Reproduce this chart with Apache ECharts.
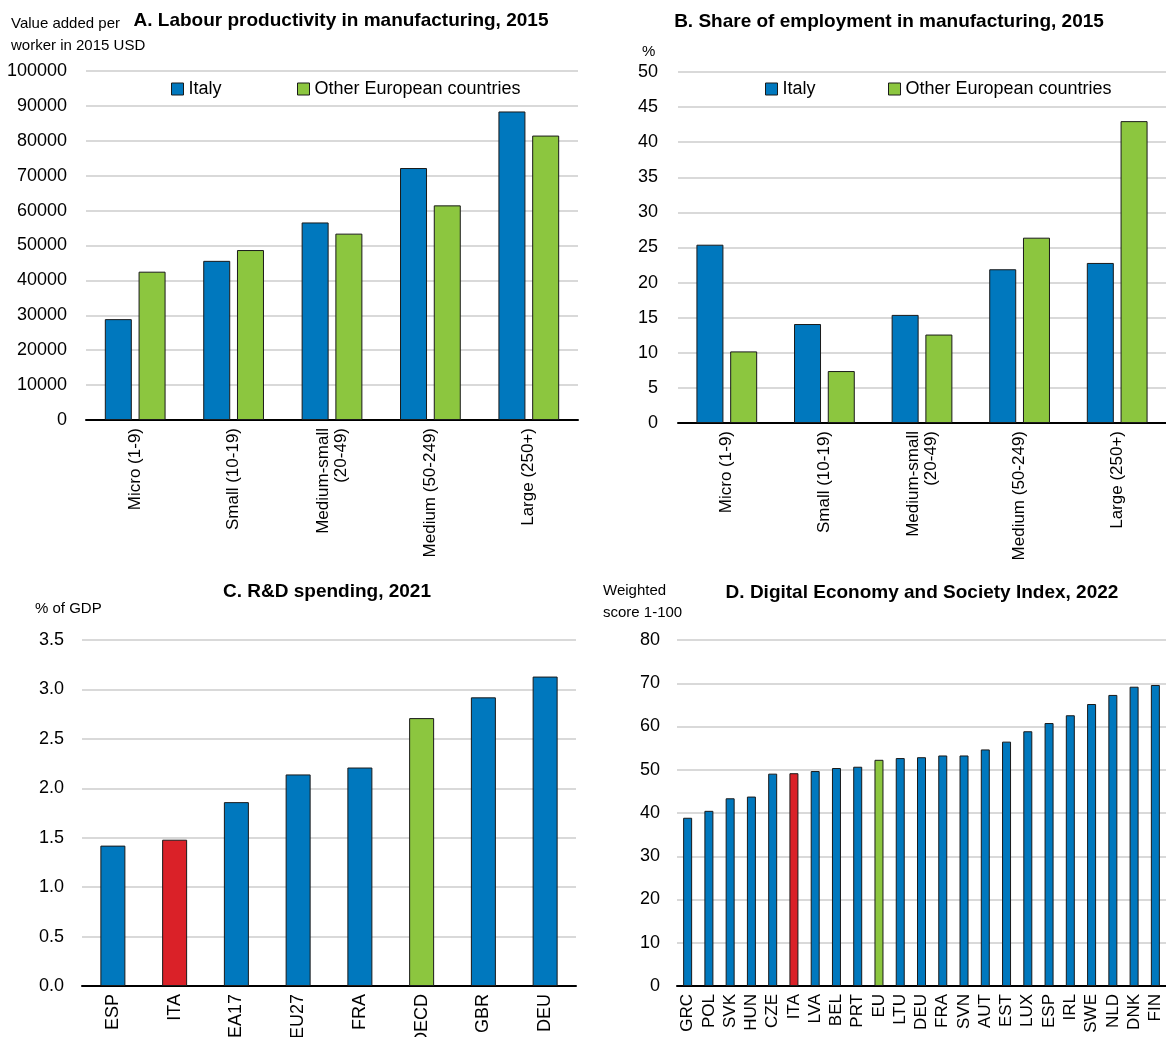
<!DOCTYPE html>
<html><head><meta charset="utf-8">
<script src="https://cdn.jsdelivr.net/npm/echarts@6/dist/echarts.min.js"></script>
<style>html,body{margin:0;padding:0;background:#fff}#c{width:1166px;height:1037px}</style>
</head><body><div id="c"></div>
<script>
// Panel A: labour productivity (value added per worker, 2015 USD)
const sizeCats = ['Micro (1-9)', 'Small (10-19)', 'Medium-small\n(20-49)', 'Medium (50-249)', 'Large (250+)'];
const prodItaly = [28900, 45600, 56600, 72200, 88400];
const prodOther = [42500, 48700, 53400, 61500, 81500];
// Panel B: share of employment (%)
const empItaly = [25.4, 14.1, 15.4, 21.9, 22.8];
const empOther = [10.2, 7.4, 12.6, 26.4, 43.0];
// Panel C: R&D spending, % of GDP
const rdCats = ['ESP', 'ITA', 'EA17', 'EU27', 'FRA', 'OECD', 'GBR', 'DEU'];
const rdVals = [1.42, 1.48, 1.86, 2.14, 2.21, 2.71, 2.92, 3.13];
// Panel D: DESI 2022
const desiCats = ['GRC','POL','SVK','HUN','CZE','ITA','LVA','BEL','PRT','EU','LTU','DEU','FRA','SVN','AUT','EST','LUX','ESP','IRL','SWE','NLD','DNK','FIN'];
const desiVals = [38.9, 40.5, 43.4, 43.8, 49.1, 49.2, 49.7, 50.4, 50.7, 52.3, 52.7, 52.9, 53.3, 53.3, 54.7, 56.5, 58.9, 60.8, 62.6, 65.2, 67.3, 69.2, 69.6];

const BLUE = '#0078BE', GREEN = '#8CC63F', RED = '#DA2128';
const FONT = "'Liberation Sans Narrow','Arial Narrow','Liberation Sans',Arial,sans-serif";
const colorFor = c => c === 'ITA' ? RED : (c === 'OECD' || c === 'EU') ? GREEN : BLUE;

const grids = [
  {left: 86, top: 71, width: 492, height: 349},
  {left: 678, top: 72, width: 488, height: 351},
  {left: 82, top: 640, width: 494, height: 346},
  {left: 677, top: 640, width: 489, height: 346}
].map(g => Object.assign({outerBoundsMode: 'none', containLabel: false}, g));
const xAx = (i, data, fs) => ({
  type: 'category', gridIndex: i, data: data,
  axisLine: {lineStyle: {color: '#000', width: 2}},
  axisTick: {inside: true, length: 6, lineStyle: {color: '#000', width: 2}},
  axisLabel: {rotate: 90, interval: 0, color: '#000', fontFamily: FONT, fontSize: fs, margin: 8, lineHeight: fs + 1}
});
const yAx = (i, max, interval, margin, fmt) => ({
  type: 'value', gridIndex: i, min: 0, max: max, interval: interval,
  axisLine: {show: false}, axisTick: {show: false},
  splitLine: {lineStyle: {color: '#d9d9d9', width: 2}},
  axisLabel: {color: '#000', fontFamily: FONT, fontSize: 18, margin: margin, formatter: fmt}
});
const border = {borderColor: '#1a1a1a', borderWidth: 1};
const titleStyle = {fontFamily: FONT, fontSize: 19, fontWeight: 'bold', color: '#000'};
const unitStyle = {fontFamily: FONT, fontSize: 15, fontWeight: 'normal', color: '#000', lineHeight: 22};
const legendText = {fontFamily: FONT, fontSize: 18, color: '#000'};
const leg = (name, left) => ({data: [name], left: left, top: 75, icon: 'rect', itemWidth: 12, itemHeight: 12, itemGap: 0, textStyle: legendText, itemStyle: border});

const option = {
  animation: false,
  title: [
    {text: 'A. Labour productivity in manufacturing, 2015', left: 336, top: 6, textAlign: 'center', textStyle: titleStyle},
    {text: 'B. Share of employment in manufacturing, 2015', left: 884, top: 7, textAlign: 'center', textStyle: titleStyle},
    {text: 'C. R&D spending, 2021', left: 322, top: 577, textAlign: 'center', textStyle: titleStyle},
    {text: 'D. Digital Economy and Society Index, 2022', left: 917, top: 578, textAlign: 'center', textStyle: titleStyle},
    {text: 'Value added per\nworker in 2015 USD', left: 6, top: 8, textStyle: unitStyle},
    {text: '%', left: 637, top: 36, textStyle: unitStyle},
    {text: '% of GDP', left: 30, top: 593, textStyle: unitStyle},
    {text: 'Weighted\nscore 1-100', left: 598, top: 575, textStyle: unitStyle}
  ],
  legend: [
    leg('Italy', 166), leg('Other European countries', 292),
    leg('Italy ', 760), leg('Other European countries ', 883)
  ],
  grid: grids,
  xAxis: [xAx(0, sizeCats, 17), xAx(1, sizeCats, 17), xAx(2, rdCats, 18), xAx(3, desiCats, 17)],
  yAxis: [
    yAx(0, 100000, 10000, 19, v => String(v)),
    yAx(1, 50, 5, 20),
    yAx(2, 3.5, 0.5, 18, v => v.toFixed(1)),
    yAx(3, 80, 10, 17)
  ],
  series: [
    {name: 'Italy', type: 'bar', xAxisIndex: 0, yAxisIndex: 0, data: prodItaly, barWidth: 27, barGap: '25%', itemStyle: Object.assign({color: BLUE}, border)},
    {name: 'Other European countries', type: 'bar', xAxisIndex: 0, yAxisIndex: 0, data: prodOther, barWidth: 27, barGap: '25%', itemStyle: Object.assign({color: GREEN}, border)},
    {name: 'Italy ', type: 'bar', xAxisIndex: 1, yAxisIndex: 1, data: empItaly, barWidth: 27, barGap: '25%', itemStyle: Object.assign({color: BLUE}, border)},
    {name: 'Other European countries ', type: 'bar', xAxisIndex: 1, yAxisIndex: 1, data: empOther, barWidth: 27, barGap: '25%', itemStyle: Object.assign({color: GREEN}, border)},
    {name: 'R&D', type: 'bar', xAxisIndex: 2, yAxisIndex: 2, barWidth: 25,
      data: rdVals.map((v, i) => ({value: v, itemStyle: Object.assign({color: colorFor(rdCats[i])}, border)}))},
    {name: 'DESI', type: 'bar', xAxisIndex: 3, yAxisIndex: 3, barWidth: 9,
      data: desiVals.map((v, i) => ({value: v, itemStyle: Object.assign({color: colorFor(desiCats[i])}, border)}))}
  ]
};
const chart = echarts.init(document.getElementById('c'), null, {renderer: 'canvas'});
chart.setOption(option);
</script></body></html>
